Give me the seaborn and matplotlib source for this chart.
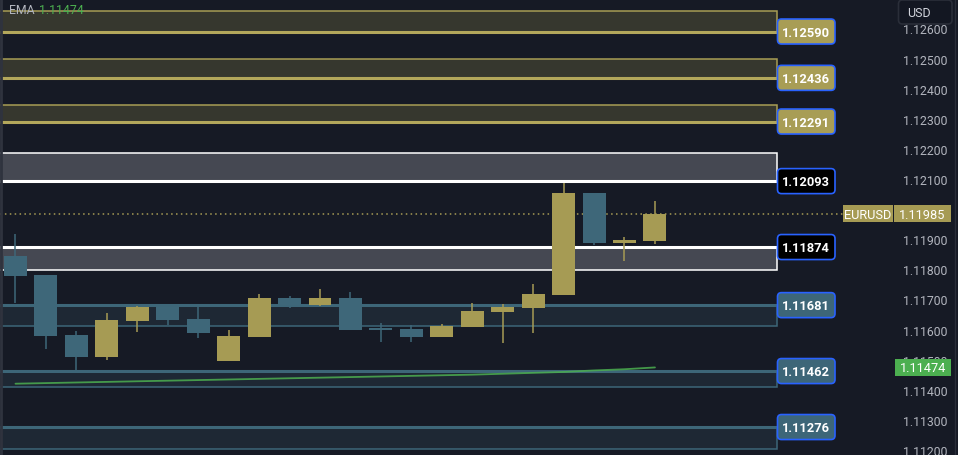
import matplotlib
matplotlib.use("Agg")
import matplotlib.pyplot as plt
import seaborn as sns
import numpy as np
import pandas as pd
from matplotlib.patches import Rectangle, FancyBboxPatch

# ---------------- data ----------------
opens = [1.11844, 1.11781, 1.11582, 1.11509, 1.11628, 1.11675, 1.11635, 1.11495,
         1.11575, 1.11705, 1.11681, 1.11705, 1.11602, 1.11602, 1.11575, 1.11608,
         1.11658, 1.11671, 1.11715, 1.12054, 1.11887, 1.11894]
highs = [1.11917, 1.11781, 1.11595, 1.11655, 1.11677, 1.11675, 1.11675, 1.11598,
         1.11718, 1.11711, 1.11735, 1.11725, 1.11622, 1.11615, 1.11618, 1.11688,
         1.11685, 1.11751, 1.12087, 1.12054, 1.11907, 1.12027]
lows = [1.11688, 1.11535, 1.11455, 1.11499, 1.11592, 1.11615, 1.11572, 1.11495,
        1.11575, 1.11671, 1.11678, 1.11598, 1.11558, 1.11558, 1.11575, 1.11608,
        1.11555, 1.11588, 1.11715, 1.11880, 1.11828, 1.11884]
closes = [1.11778, 1.11578, 1.11509, 1.11632, 1.11675, 1.11632, 1.11588, 1.11578,
          1.11705, 1.11681, 1.11705, 1.11598, 1.11600, 1.11575, 1.11612, 1.11661,
          1.11675, 1.11718, 1.12054, 1.11887, 1.11897, 1.11985]
ema_values = [1.11420, 1.11422, 1.11424, 1.11426, 1.11428, 1.11430, 1.11432, 1.11434,
              1.11436, 1.11438, 1.11440, 1.11442, 1.11444, 1.11446, 1.11448, 1.11450,
              1.11453, 1.11456, 1.11459, 1.11464, 1.11468, 1.11474]

zone_levels = [1.12590, 1.12436, 1.12291, 1.12093, 1.11874, 1.11681, 1.11462, 1.11276]
zone_far_edges = [1.12658, 1.12499, 1.12346, 1.12186, 1.11798, 1.11612, 1.11409, 1.11203]
zone_kinds = ["gold", "gold", "gold", "white", "white", "teal", "teal", "teal"]

price_ticks = [1.112, 1.113, 1.114, 1.115, 1.116, 1.117, 1.118, 1.119,
               1.120, 1.121, 1.122, 1.123, 1.124, 1.125, 1.126]
symbol = "EURUSD"
currency = "USD"
last_price = 1.11985
ema_name = "EMA"
ema_last = 1.11474

# ---------------- style ----------------
BG = "#161a25"
BULL = "#a69b54"
BEAR = "#3e6779"
GREEN = "#4caf50"
ZONE_STYLE = {
    "gold": dict(fill="#36372e", edge="#a89d55", level="#b3a75b", label="#a89d55"),
    "white": dict(fill="#454852", edge="#ffffff", level="#ffffff", label="#000000"),
    "teal": dict(fill="#1e2834", edge="#3d6678", level="#3d6678", label="#3d6678"),
}

sns.set_theme(style="dark")
plt.rcParams["font.family"] = ["Roboto", "DejaVu Sans"]

W, H = 958, 456
fig = plt.figure(figsize=(W / 100, H / 100), dpi=100, facecolor=BG)
ax = fig.add_axes([0, 0, 1, 1])
ax.set_facecolor(BG)
for s in ax.spines.values():
    s.set_visible(False)
ax.grid(False)

# x scale: candle index i sits at pixel 15.5 + 30.45*i
step = 30.45
x0px = 15.5
ax.set_xlim((0 - x0px) / step, (W - x0px) / step)
ax.set_ylim(1.111831, 1.126980)

def ix(px):
    return (px - x0px) / step

n = len(opens)
idx = np.arange(n)
df = pd.DataFrame(dict(i=idx, o=opens, h=highs, l=lows, c=closes, ema=ema_values))

# zones
zx0, zx1 = ix(-3), ix(777.5)
for lvl, far, kind in zip(zone_levels, zone_far_edges, zone_kinds):
    st = ZONE_STYLE[kind]
    lo, hi = min(lvl, far), max(lvl, far)
    ax.add_patch(Rectangle((zx0, lo), zx1 - zx0, hi - lo, facecolor=st["fill"],
                           edgecolor=st["edge"], linewidth=1.1, zorder=1))
    ax.hlines(lvl, zx0, zx1, color=st["level"], linewidth=2.2, zorder=1.5)

# last price dotted line
ax.hlines(last_price, ix(0), ix(843), color=BULL, linewidth=1.1,
          linestyles=(0, (1, 2.2)), zorder=2)

# candles
cols = [BULL if c >= o else BEAR for o, c in zip(df.o, df.c)]
ax.vlines(df.i, df.l, df.h, colors=cols, linewidth=1.1, zorder=3)
bottoms = np.minimum(df.o, df.c)
heights = np.maximum(np.abs(df.c - df.o), 0.00004)
ax.bar(df.i, heights, bottom=bottoms, width=0.755, color=cols, linewidth=0, zorder=4)

# EMA line
sns.lineplot(data=df, x="i", y="ema", ax=ax, color=GREEN, linewidth=1.3, alpha=0.85,
             zorder=5, legend=False)
ax.set_xlabel("")
ax.set_ylabel("")

# price scale on the right
ax.set_xticks([])
ax.set_yticks(price_ticks)
ax.set_yticklabels([f"{v:.5f}" for v in price_ticks])
ax.yaxis.tick_right()
ax.tick_params(axis="y", which="both", length=0, pad=-39.6, labelsize=8.8,
               labelcolor="#b2b5be", left=False, right=False, labelleft=False,
               labelright=True)

# ---- overlay in pixel coordinates for labels ----
fig.canvas.draw()
def ypix(p):
    return H - ax.transData.transform((0, p))[1]

ov = fig.add_axes([0, 0, 1, 1], facecolor="none")
ov.set_xlim(0, W)
ov.set_ylim(H, 0)
ov.axis("off")

def rbox(x, y, w, h, fc, ec, lw=1.2, r=4, z=10):
    ov.add_patch(FancyBboxPatch((x + r, y + r), w - 2 * r, h - 2 * r,
                                boxstyle=f"round,pad={r}", facecolor=fc,
                                edgecolor=ec, linewidth=lw, zorder=z))

for lvl, kind in zip(zone_levels, zone_kinds):
    st = ZONE_STYLE[kind]
    yc = ypix(lvl)
    rbox(777.5, yc - 12.5, 57.5, 25, st["label"], "#2962ff")
    ov.text(806, yc + 0.5, f"{lvl:.5f}", color="white", fontsize=9.3, weight="bold",
            ha="center", va="center", zorder=11)

# EURUSD last price label
yl = ypix(last_price)
ov.add_patch(Rectangle((843, yl - 8.5), 50, 17, facecolor=BULL, edgecolor="none", zorder=10))
ov.text(868, yl + 0.5, symbol, color="white", fontsize=9.2, ha="center", va="center", zorder=11)
ov.add_patch(Rectangle((894, yl - 8.5), 57, 17, facecolor=BULL, edgecolor="none", zorder=10))
ov.text(922.5, yl + 0.5, f"{last_price:.5f}", color="white", fontsize=9.2, ha="center",
        va="center", zorder=11)

# EMA price label
ye = ypix(ema_last)
ov.add_patch(Rectangle((895, ye - 8.5), 56, 17, facecolor=GREEN, edgecolor="none", zorder=10))
ov.text(923, ye + 0.5, f"{ema_last:.5f}", color="white", fontsize=9.2, ha="center",
        va="center", zorder=11)

# currency box
rbox(898.5, 1, 53.5, 24, "#131722", "#2a2e39", lw=1.2, r=4)
ov.text(907, 13.5, currency, color="#d1d4dc", fontsize=9, ha="left", va="center", zorder=11)

# EMA legend
ov.text(9, 10.5, ema_name, color="#b2b5be", fontsize=8.8, ha="left", va="center", zorder=11)
ov.text(39, 10.5, f"{ema_last:.5f}", color=GREEN, fontsize=8.8, ha="left", va="center", zorder=11)

# edges
ov.axvline(1, color="#2f333e", linewidth=2, zorder=12)
ov.axvline(955.5, color="#2a2e39", linewidth=1, zorder=12)

fig.savefig("out.png", dpi=100, facecolor=BG)
